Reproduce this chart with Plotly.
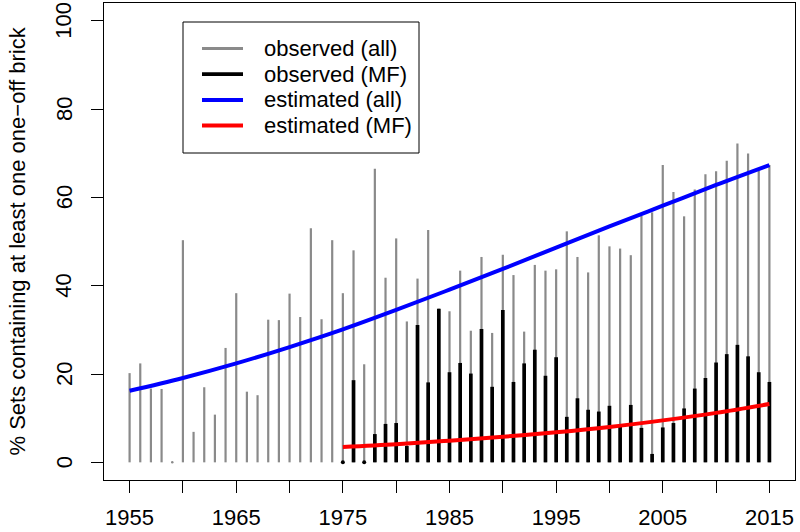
import plotly.graph_objects as go

# ---------------- data ----------------
years_all = list(range(1955, 2016))
observed_all = [20.2, 22.4, 16.7, 16.6, 0.0, 50.3, 6.9, 17.0, 10.8, 25.9,
                38.3, 16.0, 15.2, 32.3, 32.2, 38.2, 32.9, 53.0, 32.4, 50.3,
                38.3, 48.0, 22.2, 66.5, 41.8, 50.7, 31.9, 41.6, 52.6, 34.8,
                34.2, 43.4, 29.8, 46.5, 29.3, 47.0, 42.4, 29.6, 44.7, 43.4,
                43.7, 52.3, 46.5, 43.0, 51.4, 48.9, 48.4, 46.9, 55.8, 56.6,
                67.3, 61.2, 55.7, 61.8, 65.2, 65.9, 68.3, 72.2, 69.9, 66.0,
                67.3]

years_mf = list(range(1975, 2016))
observed_mf = [0.0, 18.6, 0.0, 6.4, 8.7, 8.9, 3.7, 31.1, 18.1, 34.8,
               20.4, 22.5, 20.1, 30.2, 17.1, 34.5, 18.2, 22.4, 25.5, 19.6,
               23.8, 10.3, 14.5, 11.9, 11.5, 12.8, 8.0, 13.0, 7.8, 1.9,
               7.9, 8.9, 12.2, 16.7, 19.1, 22.6, 24.5, 26.6, 24.0, 20.4,
               18.2]

est_all_years = [1955, 1960, 1965, 1970, 1975, 1980, 1985, 1990, 1995, 2000, 2005, 2010, 2015]
est_all = [16.2, 19.1, 22.4, 26.1, 30.1, 34.5, 39.1, 43.8, 48.6, 53.4, 58.1, 62.8, 67.3]

est_mf_years = [1975, 1980, 1985, 1990, 1995, 2000, 2005, 2010, 2015]
est_mf = [3.5, 4.1, 4.9, 5.8, 6.8, 8.0, 9.5, 11.2, 13.2]

x_tickvals = [1955, 1960, 1965, 1970, 1975, 1980, 1985, 1990, 1995, 2000, 2005, 2010, 2015]
x_ticktext = ["1955", "", "1965", "", "1975", "", "1985", "", "1995", "", "2005", "", "2015"]
y_tickvals = [0, 20, 40, 60, 80, 100]
y_ticktext = ["0", "20", "40", "60", "80", "100"]

series_names = ["observed (all)", "observed (MF)", "estimated (all)", "estimated (MF)"]
y_title = "% Sets containing at least one one\u2212off brick"


def stems(xs, vs):
    sx, sy = [], []
    for x, v in zip(xs, vs):
        sx += [x, x, None]
        sy += [0, v, None]
    return sx, sy


FONT = "Liberation Sans, Arial, Helvetica, sans-serif"
FS = 22
GRAY = "#8a8a8a"
BLUE = "#0000ff"
RED = "#ff0000"
colors = [GRAY, "black", BLUE, RED]
widths = [2.2, 3.7, 4, 4]

# plot-area geometry in pixels (for placing the hand-made legend)
W, H = 800, 532
ML, MR, MT, MB = 104, 5, 3, 52
PW, PH = W - ML - MR, H - MT - MB


def px(xp):
    return (xp - ML) / PW


def py(yp):
    return (H - MB - yp) / PH


fig = go.Figure()

gx, gy = stems(years_all, observed_all)
fig.add_trace(go.Scatter(x=gx, y=gy, mode="lines", name=series_names[0],
                         line=dict(color=GRAY, width=widths[0]), hoverinfo="skip"))
bx, by = stems(years_mf, observed_mf)
fig.add_trace(go.Scatter(x=bx, y=by, mode="lines", name=series_names[1],
                         line=dict(color="black", width=widths[1]), hoverinfo="skip"))

# zero-valued observations appear as dots (round line caps)
fig.add_trace(go.Scatter(x=[x for x, v in zip(years_all, observed_all) if v == 0],
                         y=[v for v in observed_all if v == 0], mode="markers",
                         marker=dict(color=GRAY, size=2.5, line=dict(width=0)),
                         showlegend=False, hoverinfo="skip"))
fig.add_trace(go.Scatter(x=[x for x, v in zip(years_mf, observed_mf) if v == 0],
                         y=[v for v in observed_mf if v == 0], mode="markers",
                         marker=dict(color="black", size=4, line=dict(width=0)),
                         showlegend=False, hoverinfo="skip"))

fig.add_trace(go.Scatter(x=est_all_years, y=est_all, mode="lines", name=series_names[2],
                         line=dict(color=BLUE, width=widths[2], shape="spline")))
fig.add_trace(go.Scatter(x=est_mf_years, y=est_mf, mode="lines", name=series_names[3],
                         line=dict(color=RED, width=widths[3], shape="spline")))

# ---- legend box drawn like R's legend() ----
shapes = [dict(type="rect", xref="paper", yref="paper",
               x0=px(183), x1=px(419), y0=py(153), y1=py(22),
               line=dict(color="black", width=1), fillcolor="white", layer="above")]
annotations = []
row_y = [48.5, 74.2, 99.9, 125.6]
for name, c, w, ry in zip(series_names, colors, widths, row_y):
    shapes.append(dict(type="line", xref="paper", yref="paper",
                       x0=px(202), x1=px(243), y0=py(ry), y1=py(ry),
                       line=dict(color=c, width=max(w, 3)), layer="above"))
    annotations.append(dict(xref="paper", yref="paper", x=px(262), y=py(ry),
                            text=name, showarrow=False, xanchor="left",
                            yanchor="middle", font=dict(size=FS, color="black")))

# y tick labels, rotated like R's default (las=0)
for v, t in zip(y_tickvals, y_ticktext):
    annotations.append(dict(xref="paper", yref="y", x=px(64), y=v, text=t,
                            textangle=-90, showarrow=False, xanchor="center",
                            yanchor="middle", font=dict(size=FS, color="black")))

annotations.append(dict(xref="paper", yref="paper", x=px(17), y=0.5, text=y_title,
                        textangle=-90, showarrow=False, xanchor="center",
                        yanchor="middle", font=dict(size=FS, color="black")))

fig.update_layout(
    width=W, height=H,
    margin=dict(l=ML, r=MR, t=MT, b=MB),
    paper_bgcolor="white", plot_bgcolor="white",
    font=dict(family=FONT, size=FS, color="black"),
    showlegend=False,
    shapes=shapes, annotations=annotations,
    xaxis=dict(range=[1952.6, 2017.4], tickmode="array", tickvals=x_tickvals,
               ticktext=x_ticktext, ticks="outside", ticklen=12, tickwidth=1,
               tickcolor="black", showgrid=False, zeroline=False,
               showline=True, linecolor="black", linewidth=1, mirror=True,
               tickfont=dict(size=FS), automargin=False, ticklabelstandoff=6),
    yaxis=dict(range=[-4, 104], tickmode="array", tickvals=y_tickvals,
               showticklabels=False,
               ticks="outside", ticklen=12, tickwidth=1, tickcolor="black",
               showgrid=False, zeroline=False,
               showline=True, linecolor="black", linewidth=1, mirror=True,
               automargin=False),
)

fig.write_html("out.html", config={"displayModeBar": False},
               post_script="document.body.style.margin='0px';")
